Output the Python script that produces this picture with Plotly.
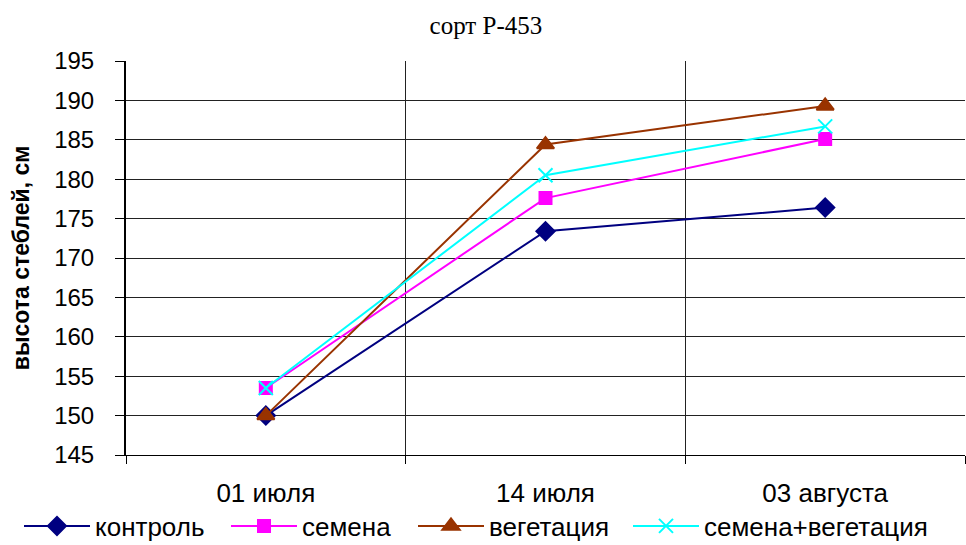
import plotly.graph_objects as go

categories = ["01 июля", "14 июля", "03 августа"]
kontrol = [150.0, 173.4, 176.4]
semena = [153.5, 177.6, 185.1]
vegetacia = [150.0, 184.4, 189.3]
semena_veg = [153.5, 180.5, 186.7]

series = [
    ("контроль", kontrol, "#000080", "diamond", 14),
    ("семена", semena, "#FF00FF", "square", 12),
    ("вегетация", vegetacia, "#993300", "triangle-up", 15),
    ("семена+вегетация", semena_veg, "#00FFFF", "x-thin", 14),
]
legend_text_px = [97, 304, 491, 706]

L, R, T, B = 126, 1, 61, 90
W, H = 966, 545
pw = W - L - R
ph = H - T - B
ITEMW = 66

fig = go.Figure()
layout_legends = {}
for i, ((name, vals, color, sym, size), tx) in enumerate(zip(series, legend_text_px)):
    key = "legend" if i == 0 else f"legend{i+1}"
    fig.add_trace(go.Scatter(
        x=categories, y=vals, name=name, mode="lines+markers",
        line=dict(color=color, width=2),
        marker=dict(symbol=sym, size=size, color=color,
                    line=dict(color=color, width=2)),
        legend=key,
    ))
    lx = tx - ITEMW - 12
    layout_legends[key] = dict(
        x=(lx - L) / pw, xanchor="left", y=-(526 - (H - B)) / ph, yanchor="middle",
        font=dict(size=26), itemwidth=ITEMW, bgcolor="rgba(0,0,0,0)",
    )

fig.update_layout(
    width=W, height=H,
    margin=dict(l=L, r=R, t=T, b=B, autoexpand=False),
    paper_bgcolor="white", plot_bgcolor="white",
    title=dict(text="сорт Р-453", x=0.503, xanchor="center", y=0.953, yanchor="middle",
               xref="container", yref="container",
               font=dict(family="Liberation Serif", size=25, color="black")),
    font=dict(family="Liberation Sans", color="black"),
    showlegend=True,
    **layout_legends,
)
fig.update_xaxes(
    type="category", tickson="boundaries", showgrid=True, gridcolor="#222222",
    gridwidth=1, showline=True, linecolor="black", linewidth=1,
    ticks="outside", ticklen=8, tickcolor="black",
    tickfont=dict(size=26), range=[-0.5, 2.5], ticklabelstandoff=15,
)
fig.update_yaxes(
    range=[145, 195], dtick=5, showgrid=True, gridcolor="#222222", gridwidth=1,
    showline=True, linecolor="black", linewidth=2, ticks="outside", ticklen=9,
    tickcolor="black", tickfont=dict(size=24), ticklabelstandoff=16,
    title=dict(text="<b>высота стеблей, см</b>", font=dict(size=23), standoff=18),
    zeroline=False,
)
fig.write_html("out.html")
